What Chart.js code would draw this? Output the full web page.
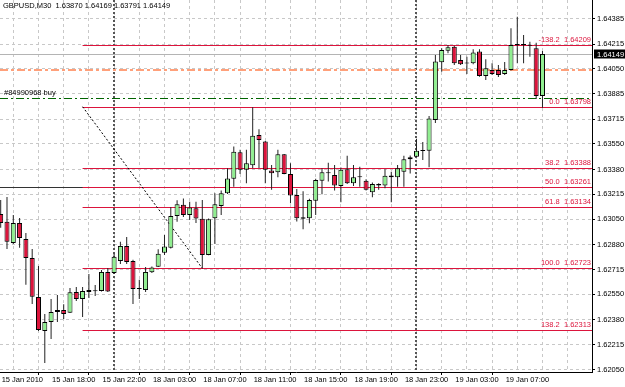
<!DOCTYPE html>
<html>
<head>
<meta charset="utf-8">
<script src="https://cdn.jsdelivr.net/npm/chart.js@4.4.1/dist/chart.umd.min.js"></script>
<style>
  html, body { margin: 0; padding: 0; background: #fff; }
  canvas { display: block; }
</style>
</head>
<body>
<canvas id="chart" width="625" height="387"></canvas>
<script>
// GBPUSD M30 bars (bar 0 = 15 Jan 2010 14:00)
const symbol = 'GBPUSD,M30';

const opens = [
  1.63085, 1.63032, 1.62892, 1.63025, 1.62918, 1.62792, 1.62532, 1.62306, 1.62366, 1.62433,
  1.62446, 1.62428, 1.62566, 1.62519, 1.62579, 1.62570, 1.62572, 1.62699, 1.62692, 1.62772,
  1.62872, 1.62772, 1.62592, 1.62579, 1.62696, 1.62734, 1.62826, 1.62859, 1.63071, 1.63145,
  1.63078, 1.63123, 1.63052, 1.62812, 1.63056, 1.63138, 1.63222, 1.63318, 1.63495, 1.63378,
  1.63409, 1.63610, 1.63566, 1.63373, 1.63362, 1.63482, 1.63351, 1.63211, 1.63052, 1.63056,
  1.63172, 1.63306, 1.63356, 1.63344, 1.63271, 1.63382, 1.63289, 1.63329, 1.63306, 1.63229,
  1.63284, 1.63273, 1.63340, 1.63329, 1.63366, 1.63449, 1.63465, 1.63505, 1.63505, 1.63710,
  1.64094, 1.64171, 1.64197, 1.64109, 1.64085, 1.64087, 1.64165, 1.64003, 1.64042, 1.64042,
  1.64016, 1.64042, 1.64209, 1.64213, 1.64209, 1.64187, 1.63870
];
const highs = [
  1.63178, 1.63198, 1.63078, 1.63058, 1.62958, 1.62852, 1.62739, 1.62419, 1.62519, 1.62546,
  1.62483, 1.62592, 1.62599, 1.62599, 1.62685, 1.62612, 1.62712, 1.62725, 1.62819, 1.62899,
  1.62932, 1.62779, 1.62646, 1.62732, 1.62735, 1.62849, 1.62945, 1.63131, 1.63175, 1.63188,
  1.63165, 1.63165, 1.63178, 1.63055, 1.63222, 1.63240, 1.63389, 1.63533, 1.63511, 1.63511,
  1.63794, 1.63648, 1.63570, 1.63411, 1.63511, 1.63484, 1.63422, 1.63251, 1.63235, 1.63185,
  1.63318, 1.63389, 1.63426, 1.63411, 1.63393, 1.63471, 1.63411, 1.63399, 1.63316, 1.63293,
  1.63289, 1.63382, 1.63366, 1.63411, 1.63471, 1.63473, 1.63583, 1.63563, 1.63736, 1.64142,
  1.64187, 1.64209, 1.64204, 1.64142, 1.64131, 1.64181, 1.64181, 1.64114, 1.64087, 1.64076,
  1.64096, 1.64320, 1.64397, 1.64275, 1.64231, 1.64224, 1.64169
];
const lows = [
  1.62992, 1.62852, 1.62885, 1.62859, 1.62613, 1.62486, 1.62306, 1.62093, 1.62253, 1.62366,
  1.62386, 1.62426, 1.62506, 1.62399, 1.62526, 1.62539, 1.62569, 1.62566, 1.62685, 1.62752,
  1.62752, 1.62486, 1.62519, 1.62566, 1.62692, 1.62732, 1.62812, 1.62855, 1.63032, 1.63065,
  1.63045, 1.63025, 1.62723, 1.62809, 1.62885, 1.63078, 1.63218, 1.63266, 1.63351, 1.63289,
  1.63389, 1.63391, 1.63289, 1.63245, 1.63329, 1.63348, 1.63156, 1.63034, 1.62983, 1.63023,
  1.63078, 1.63216, 1.63300, 1.63240, 1.63163, 1.63284, 1.63271, 1.63266, 1.63240, 1.63196,
  1.63245, 1.63256, 1.63163, 1.63266, 1.63266, 1.63354, 1.63463, 1.63444, 1.63396, 1.63690,
  1.64031, 1.64154, 1.64076, 1.64076, 1.64016, 1.64080, 1.63998, 1.63976, 1.64009, 1.63996,
  1.64009, 1.64039, 1.64087, 1.64087, 1.64131, 1.63850, 1.63791
];
const closes = [
  1.63025, 1.62899, 1.63025, 1.62925, 1.62792, 1.62533, 1.62313, 1.62366, 1.62433, 1.62446,
  1.62419, 1.62564, 1.62519, 1.62572, 1.62566, 1.62574, 1.62699, 1.62569, 1.62799, 1.62872,
  1.62765, 1.62586, 1.62586, 1.62699, 1.62728, 1.62819, 1.62868, 1.63071, 1.63149, 1.63078,
  1.63128, 1.63055, 1.62812, 1.63050, 1.63149, 1.63222, 1.63320, 1.63499, 1.63378, 1.63422,
  1.63604, 1.63577, 1.63378, 1.63356, 1.63482, 1.63351, 1.63207, 1.63056, 1.63063, 1.63178,
  1.63311, 1.63362, 1.63358, 1.63273, 1.63378, 1.63289, 1.63329, 1.63331, 1.63245, 1.63284,
  1.63273, 1.63338, 1.63329, 1.63389, 1.63449, 1.63462, 1.63505, 1.63503, 1.63720, 1.64098,
  1.64176, 1.64193, 1.64087, 1.64080, 1.64087, 1.64158, 1.64003, 1.64054, 1.64016, 1.64009,
  1.64042, 1.64209, 1.64213, 1.64209, 1.64204, 1.63870, 1.64149
];

// time axis labels (bar index -> text)
const timeBars = [0, 8, 16, 24, 32, 40, 48, 56, 64, 72, 80];
const timeLabels = ['15 Jan 2010', '15 Jan 18:00', '15 Jan 22:00', '18 Jan 03:00', '18 Jan 07:00',
  '18 Jan 11:00', '18 Jan 15:00', '18 Jan 19:00', '18 Jan 23:00', '19 Jan 03:00', '19 Jan 07:00'];
const separatorBars = [18, 66];

// price axis labels
const priceTicks = ['1.64385', '1.64215', '1.64050', '1.63885', '1.63715', '1.63550', '1.63380',
  '1.63215', '1.63050', '1.62880', '1.62715', '1.62550', '1.62380', '1.62215', '1.62050'];

// fibonacci object
const fibLevels = ['-138.2', '0.0', '38.2', '50.0', '61.8', '100.0', '138.2'];
const fibPrices = [1.64209, 1.63798, 1.63388, 1.63261, 1.63134, 1.62723, 1.62313];
const fibStart = { bar: 13, price: 1.63798 };
const fibEnd = { bar: 32, price: 1.62723 };

// other horizontal lines
const bidPrice = 1.64149;
const tpPrice = 1.64042;
const orderPrice = 1.63858;
const orderLabel = '#84990968 buy';
const levelPrice = 1.63261;

const FONT_FAMILY = "'Liberation Sans', Arial, sans-serif";
const FONT_SIZE = 7.5;
const FONT = FONT_SIZE + 'px ' + FONT_FAMILY;

const wickData = highs.map((h, i) => ({ x: i, y: [lows[i], h] }));
const bodyData = opens.map((o, i) => ({ x: i, y: [Math.min(o, closes[i]), Math.max(o, closes[i])] }));
const bodyColors = opens.map((o, i) => closes[i] >= o ? '#90ee90' : '#dc143c');

const mtObjects = {
  id: 'mtObjects',
  beforeDatasetsDraw(chart) {
    const { ctx, chartArea: a, scales: { x, y } } = chart;
    ctx.save();
    ctx.beginPath();
    ctx.rect(a.left, a.top, a.right - a.left, a.bottom - a.top);
    ctx.clip();

    // day separators
    ctx.strokeStyle = '#555';
    ctx.lineWidth = 2;
    ctx.setLineDash([2, 2]);
    separatorBars.forEach(b => {
      const px = Math.round(x.getPixelForValue(b));
      ctx.beginPath();
      ctx.moveTo(px, a.top);
      ctx.lineTo(px, a.bottom);
      ctx.stroke();
    });

    const hline = (price, x0, color, width, dash) => {
      const py = Math.round(y.getPixelForValue(price)) + (width % 2 ? 0.5 : 0);
      ctx.strokeStyle = color;
      ctx.lineWidth = width;
      ctx.setLineDash(dash);
      ctx.beginPath();
      ctx.moveTo(x0, py);
      ctx.lineTo(a.right, py);
      ctx.stroke();
    };
    hline(levelPrice, a.left, '#333', 1, []);
    hline(tpPrice, a.left, '#ffa07a', 2, [8, 3, 3, 3]);
    hline(orderPrice, a.left, '#006400', 1, [8, 3, 2, 3]);
    hline(bidPrice, a.left, '#b4b4b4', 1, []);

    const fx = x.getPixelForValue(fibStart.bar);
    fibPrices.forEach(p => hline(p, fx, '#dc143c', 1, []));

    // fibo trend line
    ctx.strokeStyle = '#000';
    ctx.lineWidth = 1;
    ctx.setLineDash([2, 2]);
    ctx.beginPath();
    ctx.moveTo(fx, y.getPixelForValue(fibStart.price));
    ctx.lineTo(x.getPixelForValue(fibEnd.bar), y.getPixelForValue(fibEnd.price));
    ctx.stroke();
    ctx.restore();
  },
  afterDatasetsDraw(chart) {
    const { ctx, chartArea: a, scales: { y } } = chart;
    const last = opens.length - 1;
    ctx.save();
    ctx.font = FONT;

    // fibo level texts
    ctx.fillStyle = '#dc143c';
    ctx.textAlign = 'right';
    ctx.textBaseline = 'bottom';
    fibPrices.forEach((p, i) => {
      ctx.fillText(fibLevels[i] + '  ' + p.toFixed(5), a.right - 1, Math.round(y.getPixelForValue(p)) - 1);
    });

    // header and order label
    ctx.fillStyle = '#000';
    ctx.textAlign = 'left';
    ctx.textBaseline = 'top';
    const ohlc = [opens[last], highs[last], lows[last], closes[last]].map(v => v.toFixed(5)).join(' ');
    ctx.fillText(symbol + '  ' + ohlc, 3, 2);
    ctx.textBaseline = 'bottom';
    ctx.fillText(orderLabel, 4, Math.round(y.getPixelForValue(orderPrice)) - 1);
    ctx.restore();
  },
  afterDraw(chart) {
    const { ctx, chartArea: a, scales: { y } } = chart;
    const py = Math.round(y.getPixelForValue(bidPrice));
    ctx.save();
    ctx.fillStyle = '#000';
    ctx.fillRect(a.right + 2, py - 4.5, chart.width - a.right - 2, 9);
    ctx.fillStyle = '#fff';
    ctx.font = FONT;
    ctx.textAlign = 'left';
    ctx.textBaseline = 'middle';
    ctx.fillText(bidPrice.toFixed(5), a.right + 5, py + 0.5);
    ctx.restore();
  }
};

new Chart(document.getElementById('chart'), {
  type: 'bar',
  data: {
    datasets: [
      {
        label: 'wicks',
        data: wickData,
        backgroundColor: '#222',
        barThickness: 1,
        grouped: false,
        inflateAmount: 0,
        order: 1
      },
      {
        label: 'bodies',
        data: bodyData,
        backgroundColor: bodyColors,
        borderColor: '#000',
        borderWidth: 1,
        borderSkipped: false,
        barThickness: 5,
        minBarLength: 1,
        grouped: false,
        inflateAmount: 0,
        order: 0
      }
    ]
  },
  options: {
    responsive: false,
    animation: false,
    events: [],
    layout: { padding: 0 },
    plugins: {
      legend: { display: false },
      tooltip: { enabled: false }
    },
    scales: {
      x: {
        type: 'linear',
        min: -0.11,
        max: 93.86,
        offset: false,
        afterBuildTicks: s => {
          const t = [];
          for (let b = 0; b <= 92; b += 4) t.push({ value: b });
          s.ticks = t;
        },
        afterFit: s => {
          s.height = 15;
          s.paddingLeft = 0;
          s.paddingRight = 0;
        },
        ticks: {
          autoSkip: false,
          maxRotation: 0,
          minRotation: 0,
          align: 'start',
          labelOffset: 1,
          padding: 0,
          color: '#000',
          font: { family: FONT_FAMILY, size: FONT_SIZE },
          callback: v => {
            const k = timeBars.indexOf(v);
            return k >= 0 ? timeLabels[k] : '';
          }
        },
        grid: {
          color: '#c8c8c8',
          lineWidth: 1,
          tickLength: 3,
          tickColor: c => (c.tick && timeBars.includes(c.tick.value)) ? '#000' : 'rgba(0,0,0,0)'
        },
        border: { display: true, color: '#000', width: 1, dash: [3, 3] }
      },
      y: {
        type: 'linear',
        position: 'right',
        min: 1.62033,
        max: 1.64508,
        afterBuildTicks: s => {
          s.ticks = priceTicks.map(v => ({ value: parseFloat(v) }));
        },
        afterFit: s => {
          s.width = 33;
          s.paddingTop = 0;
          s.paddingBottom = 0;
        },
        ticks: {
          autoSkip: false,
          padding: 2,
          crossAlign: 'near',
          color: '#000',
          font: { family: FONT_FAMILY, size: FONT_SIZE },
          callback: (v, i) => priceTicks[i]
        },
        grid: {
          color: '#c8c8c8',
          lineWidth: 1,
          tickLength: 3,
          tickColor: '#000'
        },
        border: { display: true, color: '#000', width: 1, dash: [3, 3] }
      }
    }
  },
  plugins: [mtObjects]
});
</script>
</body>
</html>
